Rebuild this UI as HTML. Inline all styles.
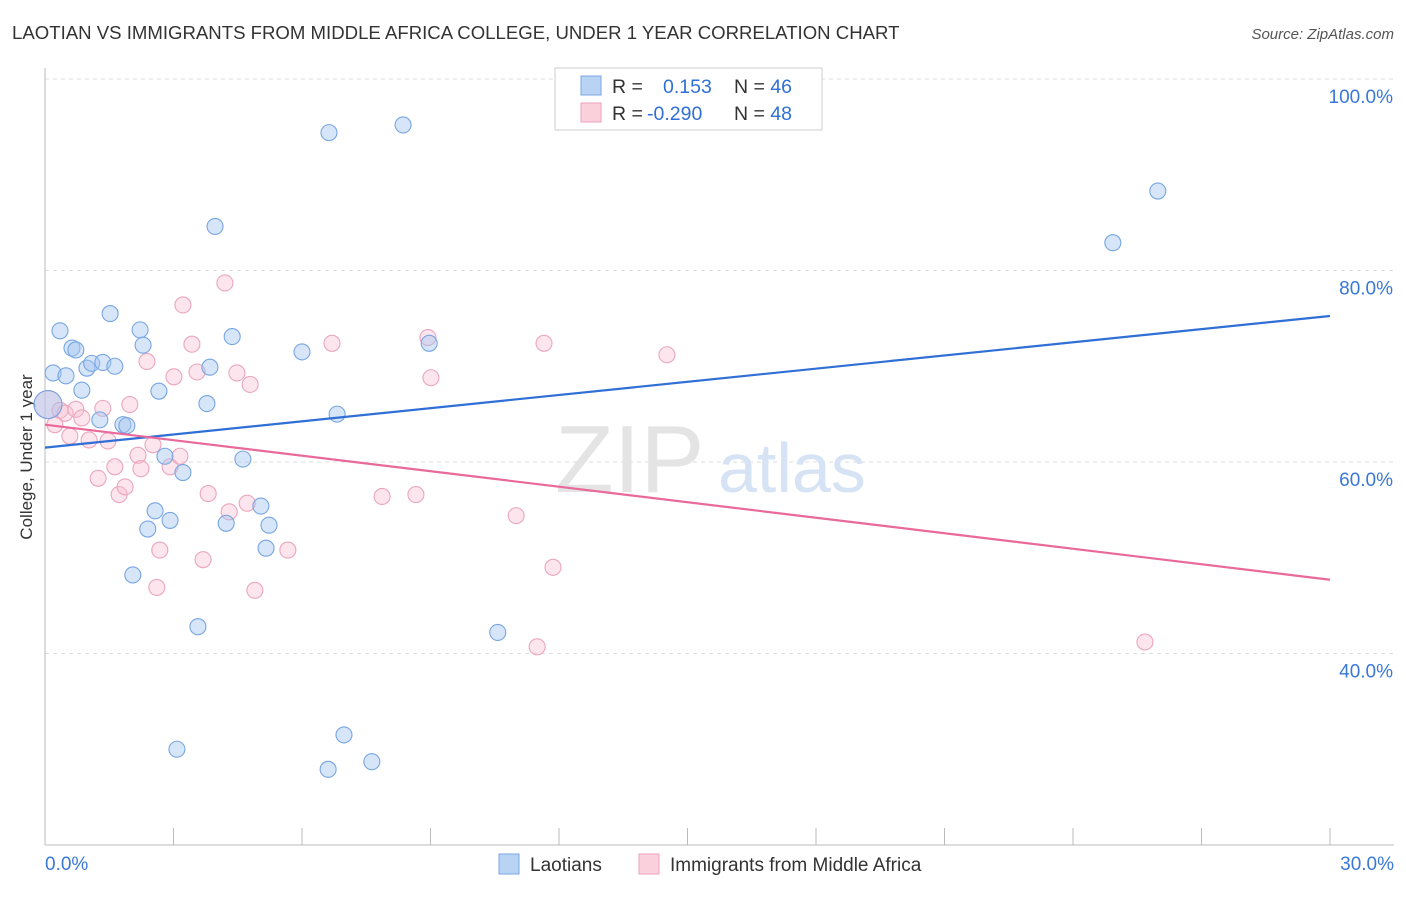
<!DOCTYPE html>
<html><head><meta charset="utf-8">
<style>
body{margin:0;background:#fff;font-family:"Liberation Sans",sans-serif;}
svg text{font-family:"Liberation Sans",sans-serif;}
</style></head>
<body>
<svg id="chart" width="1406" height="892" xmlns="http://www.w3.org/2000/svg">
<text x="12" y="39" font-size="18.6" fill="#333">LAOTIAN VS IMMIGRANTS FROM MIDDLE AFRICA COLLEGE, UNDER 1 YEAR CORRELATION CHART</text>
<text x="1394" y="39" font-size="15" fill="#555" text-anchor="end" font-style="italic">Source: ZipAtlas.com</text>
<text x="32" y="457" font-size="17" fill="#333" text-anchor="middle" transform="rotate(-90 32 457)">College, Under 1 year</text>
<g id="grid"></g>
<g id="axes"></g>
<text x="555" y="492" font-size="96" fill="#e4e4e4" font-family="Liberation Serif">ZIP</text>
<text x="718" y="492" font-size="70" fill="#d6e3f5">atlas</text>
<g id="marks"></g>
<g>
<rect x="555" y="68" width="267" height="62" fill="#fff" stroke="#ccc"/>
<rect x="581" y="76" width="20" height="19" fill="#b9d3f5" stroke="#7aa7e3"/>
<rect x="581" y="103" width="20" height="19" fill="#fbd0dd" stroke="#eca3bb"/>
<text x="612" y="93" font-size="19.5" fill="#333">R = <tspan fill="#2f6fd6" x="663">0.153</tspan><tspan fill="#333" x="734">N = </tspan><tspan fill="#2f6fd6">46</tspan></text>
<text x="612" y="120" font-size="19.5" fill="#333">R = <tspan fill="#2f6fd6" x="647">-0.290</tspan><tspan fill="#333" x="734">N = </tspan><tspan fill="#2f6fd6">48</tspan></text>
</g>
<g>
<rect x="499" y="854" width="20" height="20" fill="#b9d3f5" stroke="#7aa7e3"/>
<text x="530" y="871" font-size="19" fill="#333">Laotians</text>
<rect x="639" y="854" width="20" height="20" fill="#fbd0dd" stroke="#eca3bb"/>
<text x="670" y="871" font-size="19" fill="#333">Immigrants from Middle Africa</text>
</g>
</svg>
<script>
const yTicks=[100,80,60,40];
const yTickLabels=["100.0%","80.0%","60.0%","40.0%"];
const xTickLabels=["0.0%","30.0%"];
const blueX=[0.19,0.35,0.49,0.63,0.72,0.86,0.98,1.09,1.28,1.35,1.52,1.63,1.82,1.91,2.05,2.22,2.29,2.40,2.57,2.66,2.80,2.92,3.08,3.22,3.57,3.78,3.85,3.97,4.23,4.37,4.62,5.04,5.16,5.23,6.00,6.63,6.61,6.82,6.98,7.63,8.36,8.97,10.57,24.93,25.98,0.07];
const blueY=[69.3,73.7,69.0,71.9,71.7,67.5,69.8,70.3,64.4,70.4,75.5,70.0,63.9,63.8,48.2,73.8,72.2,53.0,54.9,67.4,60.6,53.9,30.0,58.9,42.8,66.1,69.9,84.6,53.6,73.1,60.3,55.4,51.0,53.4,71.5,94.4,27.9,65.0,31.5,28.7,95.2,72.4,42.2,82.9,88.3,66.0];
const pinkX=[0.07,0.23,0.35,0.47,0.58,0.72,0.86,1.03,1.24,1.35,1.47,1.63,1.73,1.87,1.98,2.17,2.24,2.38,2.52,2.68,2.61,2.92,3.01,3.15,3.22,3.43,3.55,3.69,3.81,4.20,4.30,4.48,4.72,4.79,4.90,5.67,6.70,7.87,8.66,8.94,9.01,11.00,11.65,11.86,11.49,14.52,25.68];
const pinkY=[66.0,63.9,65.4,65.1,62.7,65.5,64.6,62.3,58.3,65.6,62.2,59.5,56.6,57.4,66.0,60.7,59.3,70.5,61.8,50.8,46.9,59.5,68.9,60.6,76.4,72.3,69.4,49.8,56.7,78.7,54.8,69.3,55.7,68.1,46.6,50.8,72.4,56.4,56.6,73.0,68.8,54.4,72.4,49.0,40.7,71.2,41.2];
const blueTrend=[61.5,75.25];
const pinkTrend=[63.9,47.7];
const xMax=30;
const X=v=>45+v/xMax*1285;
const Y=v=>79+(100-v)*9.575;
const NS="http://www.w3.org/2000/svg";
function mk(tag,attrs,parent){const e=document.createElementNS(NS,tag);for(const k in attrs)e.setAttribute(k,attrs[k]);parent.appendChild(e);return e;}
const grid=document.getElementById('grid'),axes=document.getElementById('axes'),marks=document.getElementById('marks');
yTicks.forEach((t,i)=>{
 const l=mk('line',{x1:45,x2:1394,y1:Y(t),y2:Y(t),stroke:'#ddd','stroke-dasharray':'4,4'},grid);
 
 
 const tx=mk('text',{x:1393,y:Y(t)+24,'font-size':19,fill:'#3a78d8','text-anchor':'end'},axes);
 tx.textContent=yTickLabels[i];
 
 
});
mk('line',{x1:45,x2:45,y1:68,y2:845,stroke:'#bbb'},axes);
mk('line',{x1:45,x2:1394,y1:845,y2:845,stroke:'#bbb'},axes);
for(let i=0;i<=10;i++){const x=X(i*3);const t=mk('line',{x1:x,x2:x,y1:828,y2:845,stroke:'#bbb'},axes);}
const xl0=mk('text',{x:45,y:870,'font-size':19,fill:'#3a78d8'},axes);xl0.textContent=xTickLabels[0];


const xl1=mk('text',{x:1394,y:870,'font-size':19,fill:'#3a78d8','text-anchor':'end'},axes);xl1.textContent=xTickLabels[1];


function pts(xs,ys,fill,stroke,name){
 xs.forEach((x,i)=>{
  const big=(name==='laotian-point'&&i===xs.length-1)||(name==='immigrant-point'&&i===0);
  const c=mk('circle',{cx:X(x),cy:Y(ys[i]),r:big?14:8,fill:fill,stroke:stroke,'stroke-width':1.1},marks);
  
  
 });
}
pts(pinkX,pinkY,'rgba(248,190,210,0.4)','#eaa6bd','immigrant-point');
pts(blueX,blueY,'rgba(165,198,240,0.45)','#78a6e2','laotian-point');
const bl=mk('line',{x1:X(0),y1:Y(blueTrend[0]),x2:X(xMax),y2:Y(blueTrend[1]),stroke:'#2f6fd6','stroke-width':2.2},marks);


const pl=mk('line',{x1:X(0),y1:Y(pinkTrend[0]),x2:X(xMax),y2:Y(pinkTrend[1]),stroke:'#e8699a','stroke-width':2.2},marks);


</script>
</body></html>
